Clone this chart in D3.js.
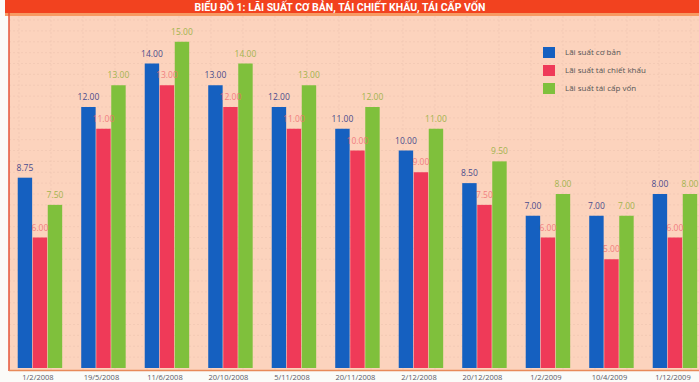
<!DOCTYPE html>
<html><head><meta charset="utf-8">
<script src="https://cdn.jsdelivr.net/npm/d3@7"></script>
<style>body{margin:0;background:#fbfbf8;}svg{display:block;}</style>
</head><body>
<svg id="c" width="699" height="382"></svg>
<script>
const categories = ["1/2/2008","19/5/2008","11/6/2008","20/10/2008","5/11/2008","20/11/2008","2/12/2008","20/12/2008","1/2/2009","10/4/2009","1/12/2009"];
const seriesNames = ["Lãi suất cơ bản","Lãi suất tái chiết khấu","Lãi suất tái cấp vốn"];
const baseRate = [8.75,12,14,13,12,11,10,8.5,7,7,8];
const discountRate = [6,11,13,12,11,10,9,7.5,6,5,6];
const refinanceRate = [7.5,13,15,14,13,12,11,9.5,8,7,8];
const seriesColors = ["#1560c0","#ef3a58","#7fc03c"];
const labelColors = ["#4a4c8c","#f06a70","#a3b44e"];
const titleText = "BIỂU ĐỒ 1: LÃI SUẤT CƠ BẢN, TÁI CHIẾT KHẤU, TÁI CẤP VỐN";

const series = [baseRate, discountRate, refinanceRate];
const svg = d3.select("#c");
const W = 699, H = 382;
const plot = {left: 9, top: 16, right: 699, bottom: 370};

svg.append("rect").attr("x",0).attr("y",0).attr("width",W).attr("height",H).attr("fill","#fbfbf8");
svg.append("rect").attr("x",plot.left).attr("y",plot.top).attr("width",plot.right-plot.left).attr("height",plot.bottom-plot.top).attr("fill","#fcd3bd");

const x0 = d3.scaleBand().domain(categories).range([8.2, 706.7]).paddingInner(0.3).paddingOuter(0.15);
const x1 = d3.scaleBand().domain(d3.range(3)).range([0, x0.bandwidth()]).paddingInner(0.04);
const y = d3.scaleLinear().domain([0,16]).range([368, 20]);

const grid = svg.append("g");
grid.selectAll("line.h").data(d3.range(1,33)).join("line")
  .attr("x1",plot.left).attr("x2",plot.right)
  .attr("y1",d=>y(d/2)).attr("y2",d=>y(d/2))
  .attr("stroke","#efc6b2").attr("stroke-width",0.7).attr("stroke-dasharray","2,2");
grid.selectAll("line.v").data(d3.range(0,22)).join("line")
  .attr("x1",d=>plot.left+10+d*32).attr("x2",d=>plot.left+10+d*32)
  .attr("y1",plot.top).attr("y2",plot.bottom)
  .attr("stroke","#efc6b2").attr("stroke-width",0.7).attr("stroke-dasharray","2,2");

svg.append("rect").attr("x",5).attr("y",0).attr("width",W-5).attr("height",13).attr("fill","#f2421f");
svg.append("rect").attr("x",5).attr("y",13).attr("width",W-5).attr("height",3).attr("fill","#f79a62");
svg.append("text").attr("x",340).attr("y",10.5).attr("fill","#ffffff").attr("text-anchor","middle")
  .attr("font-family","Roboto, 'DejaVu Sans', sans-serif").attr("font-weight","bold").attr("font-size",10.5)
  .text(titleText);

svg.append("line").attr("x1",plot.left).attr("x2",plot.left).attr("y1",13).attr("y2",plot.bottom+1).attr("stroke","#e4553a").attr("stroke-width",1.5);
svg.append("line").attr("x1",plot.left).attr("x2",plot.right).attr("y1",plot.bottom+0.5).attr("y2",plot.bottom+0.5).attr("stroke","#e88a5a").attr("stroke-width",1.5);

const groups = svg.append("g").selectAll("g").data(categories).join("g")
  .attr("transform",c=>`translate(${x0(c)},0)`);
groups.each(function(c,i){
  const g = d3.select(this);
  series.forEach((s,k)=>{
    g.append("rect").attr("x",x1(k)).attr("y",y(s[i])).attr("width",x1.bandwidth())
      .attr("height",y(0)-y(s[i])).attr("fill",seriesColors[k]);
  });
});
groups.each(function(c,i){
  const g = d3.select(this);
  series.forEach((s,k)=>{
    g.append("text").attr("x",x1(k)+x1.bandwidth()/2).attr("y",y(s[i])-7)
      .attr("text-anchor","middle").attr("font-family","'Open Sans', 'DejaVu Sans', sans-serif")
      .attr("font-size",8.5).attr("fill",labelColors[k]).attr("opacity",k===1?0.8:1)
      .text(d3.format(".2f")(s[i]));
  });
});

svg.append("g").selectAll("text").data(categories).join("text")
  .attr("x",c=>x0(c)+x0.bandwidth()/2-2).attr("y",380)
  .attr("text-anchor","middle").attr("font-family","'Open Sans', 'DejaVu Sans', sans-serif")
  .attr("font-size",7.5).attr("fill","#5a5a66").text(c=>c);

const lg = svg.append("g").attr("transform","translate(543,47)");
seriesNames.forEach((n,k)=>{
  lg.append("rect").attr("x",0).attr("y",k*18).attr("width",12).attr("height",11).attr("fill",seriesColors[k]);
  lg.append("text").attr("x",22).attr("y",k*18+8).attr("font-family","'Open Sans', 'DejaVu Sans', sans-serif")
    .attr("font-size",8).attr("fill","#555").text(n);
});
</script>
</body></html>
